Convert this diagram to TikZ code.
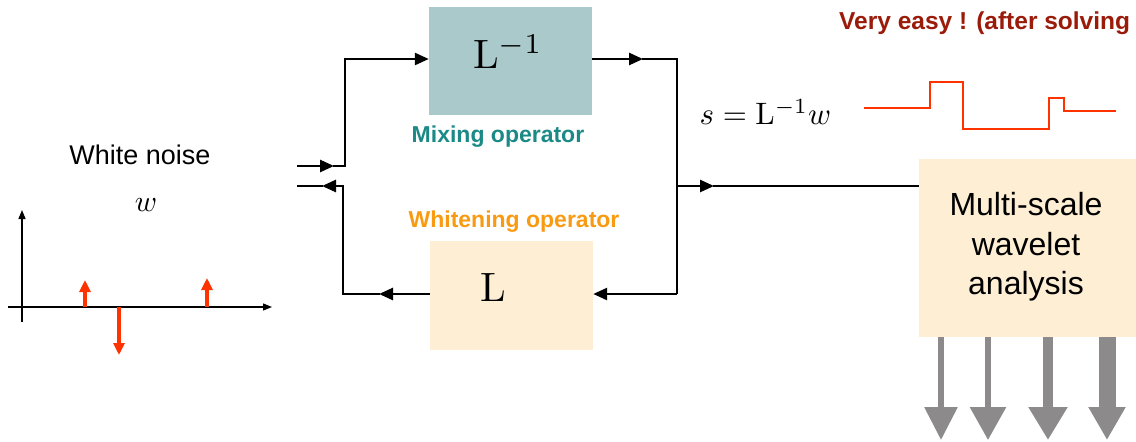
\documentclass[tikz,border=0pt]{standalone}
\usepackage[no-math]{fontspec}
\newfontfamily\arialf{Liberation Sans}
\usetikzlibrary{arrows.meta,calc}
\definecolor{teal box}{HTML}{AAC9CA}
\definecolor{cream}{HTML}{FDEED4}
\definecolor{mixcol}{HTML}{1B8A86}
\definecolor{whitecol}{HTML}{F99B12}
\definecolor{easycol}{HTML}{9B1B0A}
\definecolor{sigred}{HTML}{FF3300}
\definecolor{outgray}{HTML}{8C8A8A}
\tikzset{
  opbox/.style={inner sep=0pt, minimum width=163pt, minimum height=108pt},
  flow/.style={line width=2.6pt, -{Triangle[length=14pt,width=12pt]}},
  wire/.style={line width=2.6pt},
  lbl/.style={font=\arialf\bfseries\fontsize{23}{27}\selectfont, inner sep=0pt},
  mathlbl/.style={scale=4.1, inner sep=0pt},
  impulse/.style={line width=3.5pt, sigred, -{Triangle[length=12pt,width=11pt]}},
  axis/.style={line width=1.3pt, -{Triangle[length=9pt,width=7pt]}},
  outarrow/.style={outgray, line width=#1},
}
\begin{document}
\begin{tikzpicture}[x=1pt,y=-1pt]
\useasboundingbox (0,0) rectangle (1136,442);
% boxes
\node[opbox, fill=teal box] (Linv) at (510.5,61) {};
\node[mathlbl] (Linvt) at (508,52) {$\mathrm{L}^{-1}$};
\node[opbox, fill=cream, minimum height=109pt] (L) at (511.5,295.5) {};
\node[mathlbl] (Lt) at (493,287) {$\mathrm{L}$};
\node[lbl, text=mixcol] (mix) at (498,137) {Mixing operator};
\node[lbl, text=whitecol] (whit) at (514,222) {Whitening operator};
% multi-scale box
\node[fill=cream, inner sep=0pt, minimum width=217pt, minimum height=178pt] (ms) at (1027.5,248) {};
\node[font=\arialf\fontsize{32}{39.5}\selectfont, align=center, inner sep=0pt] (mst) at (1026,247) {Multi-scale\\wavelet\\analysis};
% texts
\node[font=\arialf\fontsize{27}{32}\selectfont, inner sep=0pt] (wn) at (140,155) {White noise};
\node[scale=3.0, inner sep=0pt] (wsym) at (146,205) {$w$};
\node[scale=3.1, inner sep=0pt, anchor=west] (seq) at (699,112) {$s=\mathrm{L}^{-1}w$};
\node[inner sep=0pt, text=easycol, font=\arialf\bfseries\fontsize{24.5}{29}\selectfont, anchor=west] (easy) at (839,23) {Very easy ! (after solving};
% connector coordinates
\coordinate (in1) at (297,166);
\coordinate (c1) at (345,166);
\coordinate (in2) at (297,186);
\coordinate (c4) at (343,186);
\coordinate (j) at (677,186);
\coordinate (rt) at (677,59);
\coordinate (rb) at (677,294);
% forward path
\draw[flow] (in1) -- (334,166);
\draw[wire] (333,166) -- (c1) -- (345,59) -- (400,59);
\draw[flow] (399,59) -- (Linv.west |- 0,59);
\draw[flow] (Linv.east |- 0,59) -- (643,59);
\draw[wire] (642,59) -- (rt) -- (rb);
\draw[flow] (rb) -- (L.east |- 0,294);
\draw[flow] (L.west |- 0,294) -- (379,294);
\draw[wire] (380,294) -- (343,294) -- (c4) -- (330,186);
\draw[flow] (331,186) -- (322,186);
\draw[wire] (323,186) -- (in2);
\draw[flow] (j) -- (714,186);
\draw[wire] (713,186) -- (j -| ms.west);
% red step signal
\coordinate (s0) at (864,108);
\coordinate (s1) at (1116,111);
\draw[sigred, line width=2.2pt] (s0) -- (930,108) -- (930,82) -- (963,82) -- (963,129) -- (1049,129) -- (1049,98) -- (1064,98) -- (1064,111) -- (s1);
% white noise axes
\coordinate (ax0) at (8,307);
\coordinate (ax1) at (272,307);
\coordinate (ay0) at (22,322);
\coordinate (ay1) at (22,210);
\draw[axis] (ax0) -- (ax1);
\draw[axis] (ay0) -- (ay1);
\coordinate (i1) at (85,307);
\coordinate (i2) at (119,307);
\coordinate (i3) at (207,307);
\draw[impulse] (i1) -- (85,280);
\draw[impulse] (i2) -- (119,355);
\draw[impulse] (i3) -- (207,278);
% output arrows
\coordinate (o1) at (941,337);
\coordinate (o2) at (988,337);
\coordinate (o3) at (1048,337);
\coordinate (o4) at (1107,337);
\draw[outarrow=6pt, -{Triangle[length=33pt,width=32pt]}] (o1) -- (941,440);
\draw[outarrow=6pt, -{Triangle[length=33pt,width=35pt]}] (o2) -- (988,440);
\draw[outarrow=10pt, -{Triangle[length=33pt,width=37pt]}] (o3) -- (1048,440);
\draw[outarrow=17pt, -{Triangle[length=33pt,width=35pt]}] (o4) -- (1107,440);
\end{tikzpicture}
\end{document}
